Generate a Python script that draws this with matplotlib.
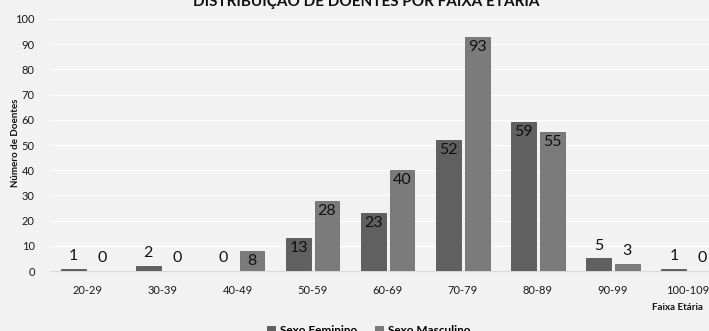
import matplotlib.pyplot as plt
import numpy as np

faixas = ["20-29", "30-39", "40-49", "50-59", "60-69", "70-79", "80-89", "90-99", "100-109"]
feminino = [1, 2, 0, 13, 23, 52, 59, 5, 1]
masculino = [0, 0, 8, 28, 40, 93, 55, 3, 0]

plt.rcParams['font.family'] = ['Lato', 'DejaVu Sans']

bg = "#f2f2f2"
c_fem = "#606060"
c_masc = "#7b7b7b"

fig = plt.figure(figsize=(7.09, 3.31), dpi=100, facecolor=bg)
ax = fig.add_axes([0.0705, 0.181, 0.953, 0.7616], facecolor=bg)

x = np.arange(len(faixas))
w = 0.33
off = 0.19
b1 = ax.bar(x - off, feminino, w, color=c_fem, edgecolor="#555555", lw=0.6,
            label="Sexo Feminino", zorder=3)
b2 = ax.bar(x + off, masculino, w, color=c_masc, edgecolor="#6e6e6e", lw=0.6,
            label="Sexo Masculino", zorder=3)

# value labels: inside end when the bar is tall enough, otherwise above
for bars, vals in ((b1, feminino), (b2, masculino)):
    for r, v in zip(bars, vals):
        cx = r.get_x() + r.get_width() / 2
        if v >= 8:
            ax.text(cx, v - 1.2, str(v), ha="center", va="top", fontsize=11.5,
                    color="#111111", zorder=4)
        else:
            ax.text(cx, v + 2.3, str(v), ha="center", va="bottom", fontsize=11.5,
                    color="#111111", zorder=4)

ax.set_xlim(-0.5, len(faixas) - 0.5)
ax.set_ylim(0, 100)
ax.set_yticks(range(0, 101, 10))
ax.set_xticks(x)
ax.set_xticklabels(faixas)
ax.tick_params(axis="both", length=0, labelsize=8, colors="#1a1a1a")
ax.tick_params(axis="y", pad=11)
ax.tick_params(axis="x", pad=10)
ax.yaxis.grid(True, color="#ffffff", lw=0.9, zorder=0)
for s in ("top", "right", "left"):
    ax.spines[s].set_visible(False)
ax.spines["bottom"].set_color("#d9d9d9")

fig.text(0.022, 0.57, "Número de Doentes", rotation=90, ha="center", va="center",
         fontsize=7, fontweight="bold", color="#111111")
fig.text(0.955, 0.0725, "Faixa Etária", ha="center", va="center",
         fontsize=7, fontweight="bold", color="#111111")
fig.text(0.516, 1.0, "DISTRIBUIÇÃO DE DOENTES POR FAIXA ETÁRIA", ha="center",
         va="center", fontsize=11, fontweight="bold", color="#111111")

fig.legend(handles=[b1, b2], loc="center", bbox_to_anchor=(0.52, 0.0),
           ncol=2, frameon=False, handlelength=0.7, handleheight=0.7,
           columnspacing=1.5, handletextpad=0.4, prop={"weight": "bold", "size": 8.5})

fig.savefig("out.png", dpi=100, facecolor=bg)
